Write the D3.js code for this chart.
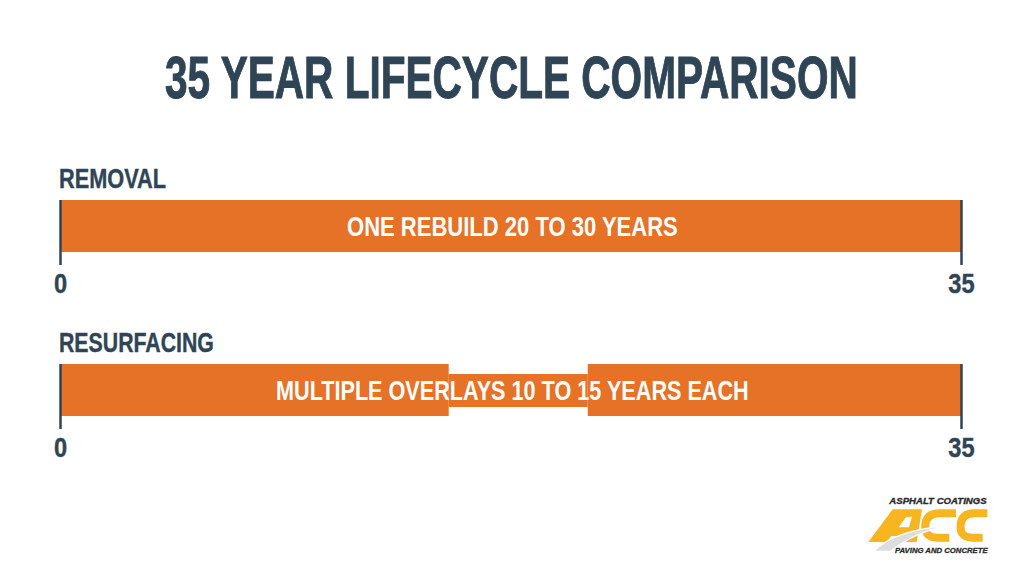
<!DOCTYPE html>
<html>
<head>
<meta charset="utf-8">
<script src="https://cdn.jsdelivr.net/npm/d3@7"></script>
<style>
  html, body { margin: 0; padding: 0; background: #fff; }
  svg { display: block; }
  text { font-family: "Liberation Sans", sans-serif; font-weight: 700; }
</style>
</head>
<body>
<div class="container"></div>
<script>
const titleText = "35 YEAR LIFECYCLE COMPARISON";
const rowNames = ["REMOVAL", "RESURFACING"];
const rowCaptions = ["ONE REBUILD 20 TO 30 YEARS", "MULTIPLE OVERLAYS 10 TO 15 YEARS EACH"];
const axisTicks = [0, 35];
// [start year, end year, thick?]
const removalSegments = [[0, 35, true]];
const resurfacingSegments = [[0, 15.1, true], [15.1, 20.5, false], [20.5, 35, true]];

const width = 1024, height = 572;
const dark = "#2f4555", orange = "#e57226";

const svg = d3.select(".container").append("svg")
    .attr("width", width)
    .attr("height", height);

const x = d3.scaleLinear().domain([0, 35]).range([60, 961]);

// no condensed font on the box, so squeeze the text sideways to the width it has in the picture
function squeeze(sel, left, baseline, w) {
    const natural = sel.node().getComputedTextLength();
    sel.attr("transform", `translate(${left},${baseline}) scale(${w / natural},1)`);
    return sel;
}

squeeze(svg.append("text")
    .attr("font-size", 60)
    .attr("fill", dark)
    .attr("stroke", dark).attr("stroke-width", 1)
    .text(titleText), 165, 98, 693);

function drawRow(top, name, nameW, caption, captionX, captionW, segments) {
    const g = svg.append("g");

    squeeze(g.append("text")
        .attr("font-size", 27.5)
        .attr("fill", dark)
        .attr("stroke", dark).attr("stroke-width", 0.4)
        .text(name), 59, top - 12, nameW);

    g.selectAll("rect.seg")
        .data(segments)
        .enter().append("rect")
        .attr("class", "seg")
        .attr("x", d => x(d[0]))
        .attr("width", d => x(d[1]) - x(d[0]))
        .attr("y", d => d[2] ? top : top + 10)
        .attr("height", d => d[2] ? 52 : 33)
        .attr("fill", orange);

    squeeze(g.append("text")
        .attr("font-size", 27)
        .attr("fill", "#fff")
        .text(caption), captionX, top + 36, captionW);

    // axis: just the two end ticks, long enough to span the bar
    const axis = d3.axisBottom(x)
        .tickValues(axisTicks)
        .tickSize(65)
        .tickPadding(8.5)
        .tickFormat(d3.format("d"));

    const ag = g.append("g")
        .attr("transform", `translate(0,${top})`)
        .call(axis);
    ag.select(".domain").remove();
    ag.selectAll(".tick line")
        .attr("stroke", dark)
        .attr("stroke-width", 2.5);
    ag.selectAll(".tick text")
        .attr("fill", dark)
        .attr("stroke", dark).attr("stroke-width", 0.4)
        .attr("font-size", 27.5)
        .attr("transform", "scale(0.86,1)");
}

drawRow(200, rowNames[0], 107, rowCaptions[0], 347, 331, removalSegments);
drawRow(364, rowNames[1], 155, rowCaptions[1], 276, 473, resurfacingSegments);

// company logo, bottom right
const logo = svg.append("g").attr("transform", "translate(850,480) scale(0.3333)");
logo.append("path")
    .attr("fill", "#f8b522")
    .attr("d", "M55,186 L128,88 L216,88 L200,186 L168,186 L172,168 L124,168 L110,186 Z M146,142 L177,142 L186,110 L168,112 Z")
    .attr("fill-rule", "evenodd");
logo.append("path")
    .attr("fill", "none").attr("stroke", "#f8b522").attr("stroke-width", 24)
    .attr("d", "M318,100 L268,100 Q230,100 226,134 Q222,173 262,173 L298,173");
logo.append("path")
    .attr("fill", "none").attr("stroke", "#f8b522").attr("stroke-width", 24)
    .attr("d", "M412,100 L372,100 Q336,100 332,134 Q328,173 368,173 L398,173");
logo.append("path")
    .attr("fill", "#dcdddf").attr("stroke", "#fff").attr("stroke-width", 4)
    .attr("d", "M72,214 Q130,152 292,137 Q190,158 122,214 Z");
logo.append("text")
    .attr("x", 118).attr("y", 73)
    .attr("font-size", 27).attr("font-style", "italic").attr("fill", "#2b2b2b")
    .attr("stroke", "#2b2b2b").attr("stroke-width", 1)
    .attr("textLength", 292).attr("lengthAdjust", "spacingAndGlyphs")
    .text("ASPHALT COATINGS");
logo.append("text")
    .attr("x", 135).attr("y", 219)
    .attr("font-size", 21).attr("font-style", "italic").attr("fill", "#2b2b2b")
    .attr("stroke", "#2b2b2b").attr("stroke-width", 0.8)
    .attr("textLength", 278).attr("lengthAdjust", "spacingAndGlyphs")
    .text("PAVING AND CONCRETE");
</script>
</body>
</html>
